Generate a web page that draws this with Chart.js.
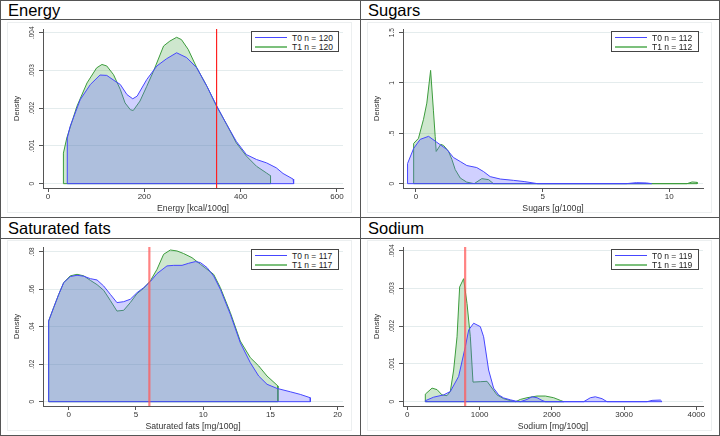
<!DOCTYPE html>
<html>
<head>
<meta charset="utf-8">
<script src="https://cdn.jsdelivr.net/npm/chart.js@4.4.1/dist/chart.umd.min.js"></script>
<style>
  body { margin: 0; background: #fff; font-family: "Liberation Sans", Arial, sans-serif; }
  #wrap { position: relative; width: 720px; height: 436px; overflow: hidden; background: #fff; }
  .hl { position: absolute; height: 1px; background: #555; }
  .vl { position: absolute; width: 1px; background: #555; }
  .title { position: absolute; font-size: 16.5px; line-height: 20px; color: #000; white-space: nowrap; }
  .frame { position: absolute; width: 345px; height: 191px; border: 1px solid #eceff0; box-sizing: border-box; }
  .plot { position: absolute; width: 358px; height: 195px; }
  .legend { position: absolute; width: 88px; height: 21px; border: 1px solid #444; box-sizing: border-box; background: #fff; font-size: 8.5px; color: #222; }
  .legend .row { position: absolute; left: 0; width: 86px; height: 10px; }
  .legend .sw { position: absolute; left: 3px; width: 32px; }
  .legend .tx { position: absolute; left: 40px; top: 0; line-height: 10px; white-space: nowrap; }
</style>
</head>
<body>
<div id="wrap">
  <div class="frame" style="left:7px;top:22px"></div>
  <div class="frame" style="left:367px;top:22px"></div>
  <div class="frame" style="left:7px;top:240px"></div>
  <div class="frame" style="left:367px;top:240px"></div>

  <div class="title" style="left:8px;top:0px">Energy</div>
  <div class="title" style="left:368px;top:0px">Sugars</div>
  <div class="title" style="left:8px;top:218px">Saturated fats</div>
  <div class="title" style="left:368px;top:218px">Sodium</div>

  <canvas id="energy" class="plot" width="358" height="195" style="left:1px;top:21px"></canvas>
  <canvas id="sugars" class="plot" width="358" height="195" style="left:361px;top:21px"></canvas>
  <canvas id="satfats" class="plot" width="358" height="195" style="left:1px;top:239px"></canvas>
  <canvas id="sodium" class="plot" width="358" height="195" style="left:361px;top:239px"></canvas>

  <div class="legend" id="leg-energy" style="left:251px;top:31px"></div>
  <div class="legend" id="leg-sugars" style="left:611px;top:31px"></div>
  <div class="legend" id="leg-satfats" style="left:251px;top:249px"></div>
  <div class="legend" id="leg-sodium" style="left:611px;top:249px"></div>

  <div class="hl" style="left:0;top:0;width:720px"></div>
  <div class="hl" style="left:0;top:19px;width:720px"></div>
  <div class="hl" style="left:0;top:217px;width:720px"></div>
  <div class="hl" style="left:0;top:238px;width:720px"></div>
  <div class="hl" style="left:0;top:435px;width:720px"></div>
  <div class="vl" style="left:0;top:0;height:436px"></div>
  <div class="vl" style="left:360px;top:0;height:436px"></div>
  <div class="vl" style="left:719px;top:0;height:436px"></div>
</div>
<script>
// Energy [kcal/100g]
const energyT0x = [40, 40, 46, 67, 88, 108, 122, 139, 150, 164, 176, 185, 205, 226, 246, 267, 288, 309, 330, 350, 371, 391, 412, 433, 454, 474, 488, 509, 510];
const energyT0y = [0, 0.00121, 0.00152, 0.00223, 0.00263, 0.00288, 0.00287, 0.00272, 0.00263, 0.00236, 0.00225, 0.00232, 0.00276, 0.00312, 0.00331, 0.00347, 0.00334, 0.00307, 0.00258, 0.00207, 0.00157, 0.00112, 0.00077, 0.00064, 0.00055, 0.00042, 0.00027, 0.00012, 0];
const energyT1x = [32, 32, 39, 60, 81, 101, 112, 122, 136, 150, 160, 171, 177, 191, 205, 219, 240, 253, 267, 277, 291, 309, 330, 350, 371, 391, 412, 433, 454, 462, 462];
const energyT1y = [0, 0.00081, 0.00121, 0.00205, 0.00267, 0.00307, 0.00316, 0.00312, 0.00289, 0.0025, 0.00214, 0.00196, 0.00194, 0.00219, 0.00258, 0.00298, 0.00365, 0.00378, 0.00388, 0.00382, 0.00356, 0.00307, 0.00258, 0.00205, 0.00157, 0.00108, 0.00073, 0.00046, 0.00028, 0.00021, 0];
const energyTicksX = [0, 200, 400, 600];
const energyTicksY = [0, 0.001, 0.002, 0.003, 0.004];
const energyCut = 350;
const energyN = [120, 120];

// Sugars [g/100g]
const sugarsT0x = [-0.33, -0.33, -0.09, 0.17, 0.5, 0.83, 1.22, 1.48, 1.75, 2.01, 2.4, 2.67, 2.93, 3.33, 3.85, 4.3, 4.8, 8.3, 8.7, 9.1, 9.3];
const sugarsT0y = [0, 0.2, 0.35, 0.44, 0.47, 0.41, 0.34, 0.26, 0.22, 0.18, 0.16, 0.12, 0.07, 0.046, 0.033, 0.02, 0, 0, 0.01, 0.007, 0];
const sugarsT1x = [-0.09, -0.09, 0.1, 0.3, 0.43, 0.58, 0.69, 0.76, 0.8, 0.98, 1.09, 1.29, 1.42, 1.55, 1.75, 2.0, 2.3, 2.6, 2.87, 3.06, 10.7, 10.9, 11.1, 11.1];
const sugarsT1y = [0, 0.4, 0.45, 0.64, 0.8, 1.125, 0.73, 0.47, 0.32, 0.39, 0.38, 0.32, 0.24, 0.14, 0.056, 0.016, 0, 0.05, 0.04, 0, 0, 0.017, 0.013, 0];
const sugarsTicksX = [0, 5, 10];
const sugarsTicksY = [0, 0.5, 1, 1.5];
const sugarsN = [112, 112];

// Saturated fats [mg/100g]
const satfatsT0x = [-1.49, -1.49, -1.12, -0.74, -0.37, 0.12, 0.62, 1.12, 1.61, 2.11, 2.6, 3.1, 3.59, 4.09, 4.58, 5.08, 5.58, 6.07, 6.57, 7.31, 7.81, 8.43, 8.92, 9.42, 9.79, 10.29, 10.78, 11.28, 12.02, 12.76, 13.51, 14.13, 14.75, 15.49, 16.48, 17.22, 17.97, 17.97];
const satfatsT0y = [0, 0.0431, 0.0502, 0.0573, 0.0636, 0.0668, 0.0675, 0.067, 0.0657, 0.065, 0.0618, 0.0573, 0.0529, 0.0534, 0.0547, 0.0582, 0.0609, 0.0641, 0.0684, 0.0725, 0.0728, 0.0728, 0.0739, 0.0748, 0.0743, 0.0716, 0.0671, 0.06, 0.0467, 0.0315, 0.0208, 0.0137, 0.0093, 0.0071, 0.0053, 0.0039, 0.0021, 0];
const satfatsT1x = [-1.49, -1.49, -1.12, -0.74, -0.37, 0.12, 0.62, 1.12, 1.61, 2.11, 2.6, 3.1, 3.59, 4.09, 4.58, 5.08, 5.58, 6.07, 6.57, 7.06, 7.56, 8.05, 8.55, 9.17, 9.79, 10.29, 10.78, 11.28, 12.02, 12.76, 13.51, 14.13, 14.75, 15.56, 15.56];
const satfatsT1y = [0, 0.0431, 0.0502, 0.0573, 0.0636, 0.0672, 0.068, 0.0672, 0.0648, 0.0625, 0.0595, 0.054, 0.0484, 0.0488, 0.0529, 0.0577, 0.0606, 0.0645, 0.0707, 0.0787, 0.081, 0.0805, 0.0791, 0.0769, 0.0734, 0.0707, 0.068, 0.0609, 0.0476, 0.0324, 0.0235, 0.0191, 0.0137, 0.0084, 0];
const satfatsTicksX = [0, 5, 10, 15, 20];
const satfatsTicksY = [0, 0.02, 0.04, 0.06, 0.08];
const satfatsCut = 6;
const satfatsN = [117, 117];

// Sodium [mg/100g]
const sodiumT0x = [249, 249, 364, 502, 595, 710, 803, 849, 918, 1010, 1056, 1125, 1194, 1264, 1333, 1425, 1495, 1564, 1656, 1726, 1795, 1864, 1910, 2441, 2533, 2602, 2695, 2764, 3318, 3387, 3502, 3525];
const sodiumT0y = [0, 0.000026, 0.00012, 0.00018, 0.00027, 0.00067, 0.00146, 0.0019, 0.00208, 0.00199, 0.00172, 0.00084, 0.00036, 0.00018, 0.0001, 0.00005, 0.000018, 0, 0.00006, 0.00013, 0.000105, 0.000035, 0, 0, 0.000105, 0.00013, 0.00008, 0, 0, 0.000035, 0.000044, 0];
const sodiumT1x = [249, 249, 342, 411, 480, 549, 595, 641, 688, 724, 779, 826, 872, 909, 1010, 1103, 1172, 1241, 1333, 1425, 1500, 1564, 1656, 1795, 1910, 2026, 2118, 2164];
const sodiumT1y = [0, 0.0002, 0.00036, 0.00032, 0.00018, 0.00016, 0.00027, 0.00084, 0.00172, 0.00304, 0.00326, 0.0026, 0.00172, 0.00052, 0.00053, 0.00054, 0.00036, 0.00018, 0.00008, 0.00003, 0, 0.00006, 0.000105, 0.00015, 0.00015, 0.000105, 0.000035, 0];
const sodiumTicksX = [0, 1000, 2000, 3000, 4000];
const sodiumTicksY = [0, 0.001, 0.002, 0.003, 0.004];
const sodiumCut = 800;
const sodiumN = [119, 119];

const blueLine = '#4646ff';
const blueFill = 'rgba(100, 100, 255, 0.3)';
const greenLine = '#3c9c3c';
const greenFill = 'rgba(60, 160, 60, 0.25)';

Chart.defaults.font.family = '"Liberation Sans", Arial, sans-serif';
Chart.defaults.color = '#333';

function toPoints(xs, ys) {
  return xs.map((x, i) => ({ x: x, y: ys[i] }));
}

function baseline(xs) {
  return [{ x: xs[0], y: 0 }, { x: xs[xs.length - 1], y: 0 }];
}

function stataLabel(v) {
  return String(v).replace(/^0\./, '.');
}

function makeLegend(id, n) {
  const el = document.getElementById(id);
  el.innerHTML = `
    <div class="row" style="top:1px"><div class="sw" style="top:4px;height:1px;background:${blueLine}"></div><div class="tx">T0 n = ${n[0]}</div></div>
    <div class="row" style="top:10px"><div class="sw" style="top:4px;height:2px;background:#7cc07c"></div><div class="tx">T1 n = ${n[1]}</div></div>
  `;
}

function makeChart(id, p) {
  const datasets = [];
  if (p.cut !== undefined) {
    datasets.push({
      data: [{ x: p.cut, y: p.yMin }, { x: p.cut, y: p.yMax }],
      borderColor: p.cutColor,
      borderWidth: p.cutWidth,
      pointRadius: 0,
      fill: false,
    });
  }
  datasets.push(
    { data: baseline(p.t0x), borderColor: blueLine, borderWidth: 1, pointRadius: 0, fill: false },
    { label: 'T0', data: toPoints(p.t0x, p.t0y), borderColor: blueLine, backgroundColor: blueFill, borderWidth: 1, pointRadius: 0, fill: 'origin' },
    { data: baseline(p.t1x), borderColor: greenLine, borderWidth: 1, pointRadius: 0, fill: false },
    { label: 'T1', data: toPoints(p.t1x, p.t1y), borderColor: greenLine, backgroundColor: greenFill, borderWidth: 1, pointRadius: 0, fill: 'origin' }
  );

  new Chart(document.getElementById(id), {
    type: 'line',
    data: { datasets },
    options: {
      responsive: false,
      animation: false,
      events: [],
      layout: { padding: { left: 8, right: 16, top: 8, bottom: 0 } },
      plugins: { legend: { display: false }, tooltip: { enabled: false } },
      scales: {
        x: {
          type: 'linear',
          bounds: 'data',
          min: p.xMin,
          max: p.xMax,
          afterBuildTicks: s => { s.ticks = p.xTicks.map(v => ({ value: v })); },
          afterFit: s => { s.height = 28; },
          ticks: { font: { size: 8 }, color: '#333', padding: 0, maxRotation: 0, autoSkip: false, callback: v => stataLabel(v) },
          grid: { drawOnChartArea: false, tickLength: 4, tickColor: '#555' },
          border: { color: '#555', width: 1 },
          title: { display: true, text: p.xTitle, font: { size: 8.7 }, color: '#333', padding: { top: 0, bottom: 2.5 } },
        },
        y: {
          type: 'linear',
          bounds: 'data',
          min: p.yMin,
          max: p.yMax,
          afterBuildTicks: s => { s.ticks = p.yTicks.map(v => ({ value: v })); },
          afterFit: s => { s.width = 34; },
          ticks: { font: { size: 6.5 }, color: '#333', padding: p.yPad, minRotation: 90, maxRotation: 90, crossAlign: 'center', autoSkip: false, callback: v => stataLabel(v) },
          grid: { color: '#e4eced', tickLength: 4, tickColor: '#555' },
          border: { color: '#555', width: 1 },
          title: { display: true, text: 'Density', font: { size: 7.5 }, color: '#333', padding: { top: 3.5, bottom: 0 } },
        },
      },
    },
  });
}

makeChart('energy', {
  t0x: energyT0x, t0y: energyT0y, t1x: energyT1x, t1y: energyT1y,
  xMin: -10.4, xMax: 612.5, yMin: -0.000115, yMax: 0.0041,
  xTicks: energyTicksX, yTicks: energyTicksY, yPad: 0.7,
  xTitle: 'Energy [kcal/100g]',
  cut: energyCut, cutColor: '#ff2020', cutWidth: 1.2,
});

makeChart('sugars', {
  t0x: sugarsT0x, t0y: sugarsT0y, t1x: sugarsT1x, t1y: sugarsT1y,
  xMin: -0.51, xMax: 11.33, yMin: -0.043, yMax: 1.536,
  xTicks: sugarsTicksX, yTicks: sugarsTicksY, yPad: 2.5,
  xTitle: 'Sugars [g/100g]',
});

makeChart('satfats', {
  t0x: satfatsT0x, t0y: satfatsT0y, t1x: satfatsT1x, t1y: satfatsT1y,
  xMin: -1.91, xMax: 20.4, yMin: -0.0023, yMax: 0.0826,
  xTicks: satfatsTicksX, yTicks: satfatsTicksY, yPad: 2.5,
  xTitle: 'Saturated fats [mg/100g]',
  cut: satfatsCut, cutColor: 'rgba(255, 90, 90, 0.75)', cutWidth: 2.2,
});

makeChart('sodium', {
  t0x: sodiumT0x, t0y: sodiumT0y, t1x: sodiumT1x, t1y: sodiumT1y,
  xMin: -60, xMax: 4092, yMin: -0.000114, yMax: 0.0041,
  xTicks: sodiumTicksX, yTicks: sodiumTicksY, yPad: 0.7,
  xTitle: 'Sodium [mg/100g]',
  cut: sodiumCut, cutColor: 'rgba(255, 90, 90, 0.75)', cutWidth: 2.2,
});

makeLegend('leg-energy', energyN);
makeLegend('leg-sugars', sugarsN);
makeLegend('leg-satfats', satfatsN);
makeLegend('leg-sodium', sodiumN);
</script>
</body>
</html>
